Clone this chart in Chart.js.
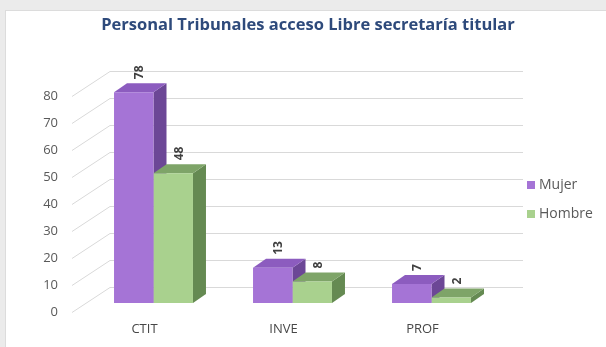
<!DOCTYPE html>
<html>
<head>
<meta charset="utf-8">
<script src="https://cdn.jsdelivr.net/npm/chart.js@4/dist/chart.umd.min.js"></script>
<style>
  html, body { margin: 0; padding: 0; background: #ebebeb; }
  #card { position: absolute; left: 5px; top: 10px; width: 601px; height: 337px;
          background: #fff; border-left: 1px solid #dcdcdc; border-top: 1px solid #dcdcdc; }
  #wrap { position: absolute; left: 0; top: 0; width: 606px; height: 347px; }
</style>
</head>
<body>
<div id="card"></div>
<div id="wrap"><canvas id="detailChart" width="606" height="347"></canvas></div>
<script>
var categorias = ['CTIT', 'INVE', 'PROF'];
var mujer = [78, 13, 7];
var hombre = [48, 8, 2];
var yMin = 0, yMax = 80, yPaso = 10;

// profundidad de las barras y de la pared del fondo
var DX = 13, DY = -9;
var WALL_X = 110, WALL_END = 523, WALL_DY = -16;
var FLOOR_X = 72, FLOOR_DY = 9;

function poly(ctx, pts) {
    ctx.beginPath();
    ctx.moveTo(pts[0][0], pts[0][1]);
    for (var i = 1; i < pts.length; i++) ctx.lineTo(pts[i][0], pts[i][1]);
    ctx.closePath();
    ctx.fill();
}

var tresD = {
    id: 'tresD',
    beforeDatasetsDraw: function (chart) {
        var ctx = chart.ctx, y = chart.scales.y;
        ctx.save();
        // lineas de la pared y del suelo
        ctx.strokeStyle = '#d9d9d9';
        ctx.lineWidth = 1;
        y.ticks.forEach(function (t) {
            var py = Math.round(y.getPixelForValue(t.value)) + 0.5;
            ctx.beginPath();
            ctx.moveTo(FLOOR_X, py + FLOOR_DY);
            ctx.lineTo(WALL_X, py + WALL_DY);
            ctx.lineTo(WALL_END, py + WALL_DY);
            ctx.stroke();
        });
        // caras lateral y superior (el frente lo pinta chart.js)
        chart.data.datasets.forEach(function (ds, i) {
            chart.getDatasetMeta(i).data.forEach(function (bar) {
                var l = bar.x - bar.width / 2, r = bar.x + bar.width / 2;
                ctx.fillStyle = ds.sideColor;
                poly(ctx, [[r, bar.y], [r + DX, bar.y + DY], [r + DX, bar.base + DY], [r, bar.base]]);
                ctx.fillStyle = ds.topColor;
                poly(ctx, [[l, bar.y], [l + DX, bar.y + DY], [r + DX, bar.y + DY], [r, bar.y]]);
            });
        });
        ctx.restore();
    },
    afterDatasetsDraw: function (chart) {
        var ctx = chart.ctx;
        ctx.save();
        ctx.fillStyle = '#404040';
        ctx.font = 'bold 12px "Open Sans"';
        ctx.textAlign = 'left';
        ctx.textBaseline = 'middle';
        chart.data.datasets.forEach(function (ds, i) {
            chart.getDatasetMeta(i).data.forEach(function (bar, j) {
                ctx.save();
                ctx.translate(bar.x + 6, bar.y + DY - 4);
                ctx.rotate(-Math.PI / 2);
                ctx.fillText(String(ds.data[j]), 0, 0);
                ctx.restore();
            });
        });
        ctx.restore();
    },
    afterDraw: function (chart) {
        // leyenda
        var ctx = chart.ctx;
        ctx.save();
        ctx.font = '14px "Open Sans"';
        ctx.textBaseline = 'middle';
        chart.data.datasets.forEach(function (ds, i) {
            var ly = 185 + i * 29;
            ctx.fillStyle = ds.backgroundColor;
            ctx.fillRect(527, ly - 4, 8, 8);
            ctx.fillStyle = '#595959';
            ctx.fillText(ds.label, 539, ly);
        });
        ctx.restore();
    }
};

var ctx = document.getElementById('detailChart');
var detail = new Chart(ctx, {
    type: 'bar',
    data: {
        labels: categorias,
        datasets: [{
            label: 'Mujer',
            data: mujer,
            backgroundColor: '#a574d6',
            topColor: '#8c5cbf',
            sideColor: '#6c4796'
        }, {
            label: 'Hombre',
            data: hombre,
            backgroundColor: '#a9d18e',
            topColor: '#7ea468',
            sideColor: '#658a52'
        }]
    },
    options: {
        responsive: false,
        animation: false,
        devicePixelRatio: 1,
        layout: { padding: { left: 10 } },
        datasets: {
            bar: { barPercentage: 1, categoryPercentage: 0.568, borderWidth: 0 }
        },
        plugins: {
            legend: { display: false },
            tooltip: { enabled: false },
            title: {
                display: true,
                text: 'Personal Tribunales acceso Libre secretaría titular',
                color: '#2e4a7b',
                font: { family: 'Open Sans', size: 16.5, weight: 'bold' },
                padding: { top: 15, bottom: 52 }
            }
        },
        scales: {
            x: {
                grid: { display: false, drawTicks: false },
                border: { display: false },
                ticks: {
                    color: '#474747',
                    font: { family: 'Open Sans', size: 13 },
                    padding: 18,
                    labelOffset: -9
                },
                afterFit: function (s) { s.height = 44; }
            },
            y: {
                min: yMin,
                max: yMax,
                grid: { display: false, drawTicks: false },
                border: { display: false },
                ticks: {
                    stepSize: yPaso,
                    color: '#595959',
                    font: { family: 'Open Sans', size: 13 },
                    padding: 26,
                    labelOffset: 9
                },
                afterFit: function (s) { s.width = 74; }
            },
            // hueco a la derecha para la leyenda
            hueco: {
                position: 'right',
                grid: { display: false, drawTicks: false },
                border: { display: false },
                ticks: { display: false },
                afterFit: function (s) { s.width = 105; }
            }
        }
    },
    plugins: [tresD]
});
</script>
</body>
</html>
